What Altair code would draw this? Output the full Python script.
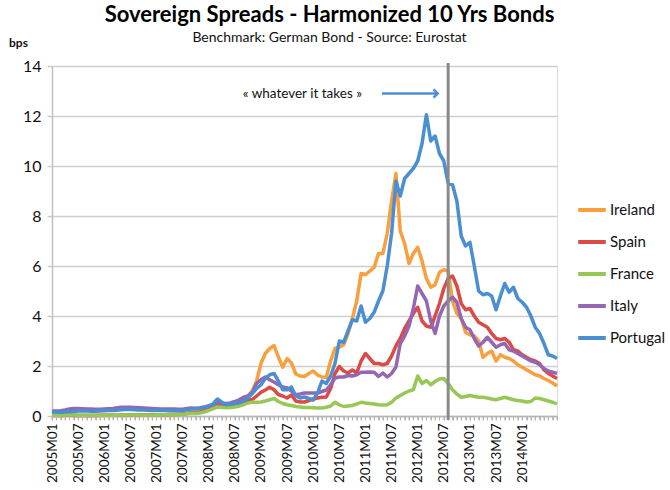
import altair as alt
import pandas as pd

# ---------------- data ----------------
months = [f"{y}M{m:02d}" for y in range(2005, 2015) for m in range(1, 13)][:117]
tick_labels = months[::6][:19]  # 2005M01 ... 2014M01

countries = ["Ireland", "Spain", "France", "Italy", "Portugal"]
colors = ["#F99F3E", "#DC4A45", "#97C855", "#9567B3", "#4B8FD3"]

ireland = [
    0.03, 0.02, 0.02, 0.02, 0.03, 0.03, 0.02, 0.02, 0.02, 0.02, 0.02, 0.02,
    0.02, 0.02, 0.02, 0.02, 0.02, 0.03, 0.03, 0.03, 0.03, 0.03, 0.03, 0.04,
    0.04, 0.04, 0.04, 0.05, 0.05, 0.06, 0.08, 0.12, 0.15, 0.15, 0.18, 0.22,
    0.25, 0.30, 0.40, 0.40, 0.38, 0.42, 0.48, 0.55, 0.62, 0.80, 1.00, 1.40,
    2.10, 2.50, 2.70, 2.82, 2.36, 1.95, 2.30, 2.12, 1.68, 1.60, 1.58, 1.70,
    1.80, 1.64, 1.56, 1.55, 2.20, 2.70, 2.75, 2.85, 3.30, 3.90, 4.60, 5.70,
    5.65, 5.80, 5.95, 6.50, 6.50, 7.30, 8.60, 9.70, 7.40, 6.90, 6.10, 6.50,
    6.75, 6.20, 5.50, 5.15, 5.25, 5.75, 5.85, 5.80, 4.60, 4.10, 3.90, 3.35,
    3.25, 3.20, 3.00, 2.35, 2.50, 2.60, 2.20, 2.45, 2.35, 2.30, 2.20, 2.05,
    1.95, 1.85, 1.75, 1.65, 1.60, 1.50, 1.42, 1.32, 1.20,
]
spain = [
    0.02, 0.02, 0.02, 0.03, 0.03, 0.02, 0.02, 0.02, 0.02, 0.02, 0.02, 0.03,
    0.03, 0.03, 0.03, 0.03, 0.04, 0.04, 0.04, 0.04, 0.04, 0.05, 0.05, 0.05,
    0.05, 0.05, 0.05, 0.06, 0.06, 0.07, 0.08, 0.10, 0.12, 0.12, 0.15, 0.20,
    0.28, 0.36, 0.44, 0.42, 0.42, 0.45, 0.48, 0.52, 0.56, 0.62, 0.66, 0.80,
    0.95, 1.04, 1.15, 1.05, 0.86, 0.80, 0.72, 0.84, 0.60, 0.56, 0.56, 0.62,
    0.68, 0.72, 0.75, 0.76, 1.10, 1.70, 1.98, 1.80, 1.72, 1.84, 1.72, 2.20,
    2.50, 2.30, 2.10, 2.10, 2.05, 2.10, 2.40, 2.80, 3.10, 3.50, 3.80, 4.10,
    4.35, 3.80, 3.60, 3.55, 4.00, 4.50, 5.10, 5.50, 5.60, 5.20, 4.50, 4.25,
    4.30, 4.00, 3.75, 3.65, 3.55, 3.30, 3.10, 3.05, 3.10, 2.95, 2.65, 2.60,
    2.45, 2.35, 2.25, 2.20, 2.10, 1.85, 1.70, 1.60, 1.50,
]
france = [
    0.03, 0.03, 0.03, 0.04, 0.04, 0.04, 0.03, 0.03, 0.03, 0.03, 0.03, 0.03,
    0.03, 0.03, 0.03, 0.03, 0.04, 0.04, 0.04, 0.04, 0.04, 0.04, 0.04, 0.04,
    0.05, 0.05, 0.05, 0.05, 0.05, 0.06, 0.07, 0.09, 0.10, 0.10, 0.12, 0.16,
    0.22, 0.30, 0.36, 0.35, 0.33, 0.34, 0.36, 0.40, 0.45, 0.52, 0.55, 0.55,
    0.56, 0.60, 0.65, 0.70, 0.58, 0.50, 0.45, 0.42, 0.38, 0.36, 0.34, 0.34,
    0.33, 0.32, 0.32, 0.35, 0.40, 0.55, 0.45, 0.38, 0.40, 0.42, 0.48, 0.55,
    0.52, 0.50, 0.48, 0.45, 0.44, 0.45, 0.55, 0.72, 0.82, 0.92, 1.00, 1.05,
    1.60, 1.30, 1.42, 1.25, 1.38, 1.48, 1.50, 1.30, 1.05, 0.88, 0.75, 0.78,
    0.82, 0.78, 0.75, 0.75, 0.72, 0.68, 0.65, 0.70, 0.75, 0.70, 0.65, 0.62,
    0.60, 0.56, 0.58, 0.72, 0.70, 0.65, 0.60, 0.55, 0.48,
]
italy = [
    0.20, 0.20, 0.21, 0.24, 0.28, 0.30, 0.30, 0.29, 0.28, 0.28, 0.27, 0.27,
    0.28, 0.29, 0.30, 0.33, 0.35, 0.35, 0.35, 0.34, 0.33, 0.32, 0.31, 0.30,
    0.29, 0.28, 0.28, 0.28, 0.28, 0.27, 0.27, 0.30, 0.32, 0.31, 0.33, 0.36,
    0.40, 0.45, 0.55, 0.52, 0.50, 0.52, 0.58, 0.65, 0.75, 0.80, 0.95, 1.30,
    1.45, 1.56, 1.45, 1.36, 1.25, 1.16, 1.12, 1.00, 0.85, 0.88, 0.92, 0.92,
    0.92, 0.92, 0.98, 1.04, 1.25, 1.52, 1.56, 1.56, 1.62, 1.60, 1.65, 1.75,
    1.75, 1.76, 1.75, 1.58, 1.72, 1.56, 1.70, 1.96, 2.90, 3.20, 3.60, 4.30,
    5.20, 4.90, 4.60, 3.80, 3.30, 4.00, 4.40, 4.60, 4.75, 4.55, 3.90, 3.55,
    3.45, 3.10, 2.80, 2.95, 3.15, 2.95, 2.75, 2.85, 2.90, 2.65, 2.60, 2.50,
    2.40, 2.30, 2.20, 2.15, 2.05, 1.90, 1.80, 1.75, 1.70,
]
portugal = [
    0.16, 0.15, 0.15, 0.16, 0.17, 0.18, 0.20, 0.20, 0.20, 0.19, 0.19, 0.20,
    0.21, 0.22, 0.22, 0.23, 0.25, 0.26, 0.26, 0.25, 0.24, 0.24, 0.23, 0.22,
    0.22, 0.22, 0.22, 0.21, 0.21, 0.21, 0.22, 0.25, 0.28, 0.28, 0.30, 0.35,
    0.40, 0.48, 0.68, 0.55, 0.45, 0.48, 0.50, 0.52, 0.60, 0.72, 0.90, 1.10,
    1.25, 1.50, 1.65, 1.70, 1.40, 1.05, 1.05, 1.16, 0.80, 0.72, 0.76, 0.70,
    0.64, 0.92, 1.40, 1.30, 1.60, 2.10, 3.00, 2.95, 3.40, 3.85, 3.80, 4.40,
    3.75, 3.90, 4.15, 4.60, 5.00, 6.00, 7.30, 9.40, 8.80, 9.50, 9.70, 9.90,
    10.20, 10.90, 12.05, 11.00, 11.20, 10.50, 10.20, 9.30, 9.25, 8.60, 7.20, 6.80,
    6.95, 6.00, 5.00, 4.85, 4.90, 4.80, 4.25, 4.80, 5.30, 4.95, 5.15, 4.70,
    4.55, 4.35, 4.00, 3.55, 3.30, 2.90, 2.45, 2.40, 2.30,
]

series = {"Ireland": ireland, "Spain": spain, "France": france,
          "Italy": italy, "Portugal": portugal}

# annotation anchors (data units)
event_month = 91          # 2012M08, "whatever it takes"
note_text = "« whatever it takes »"
note_x, note_y = 57.5, 12.9
arrow_x0, arrow_x1 = 75.8, 88.6

rows = []
for c in countries:
    for i, v in enumerate(series[c]):
        rows.append({"idx": i, "month": months[i], "country": c, "value": v})
df = pd.DataFrame(rows)
month_df = pd.DataFrame({"idx": list(range(len(months)))})

# ---------------- chart ----------------
W, H = 505, 350
FONT = "Lato"
label_arr = "[" + ",".join(f"'{t}'" for t in tick_labels) + "]"

xscale = alt.Scale(domain=[0, 116], nice=False, zero=False)
yscale = alt.Scale(domain=[0, 14], nice=False)
cscale = alt.Scale(domain=countries, range=colors)

x_axis = alt.Axis(
    values=list(range(0, 117)),
    labelExpr=f"datum.value % 6 == 0 ? {label_arr}[datum.value / 6] : ''",
    labelAngle=270, labelFontSize=13.5, labelFont=FONT, labelColor="#111",
    labelOverlap=False, labelPadding=3,
    tickSize=4, tickColor="#B5B5B5", tickWidth=1,
    domainColor="#B5B5B5", domainWidth=1.5, grid=False, title=None,
)
y_axis = alt.Axis(
    values=list(range(0, 15, 2)), labelFontSize=16, labelFont=FONT,
    labelColor="#111", labelPadding=6, tickSize=5, tickColor="#C8C8C8",
    tickWidth=1.5, domainColor="#C0C0C0", domainWidth=1.5,
    grid=True, gridColor="#CFCFCF", gridWidth=1.5,
    title="bps", titleAngle=0, titleFont=FONT, titleFontSize=12,
    titleFontWeight="bold", titleX=-34, titleY=-24, titleAlign="center",
    titleBaseline="middle", titleColor="#111",
)


def X(field):
    return alt.X(field, scale=xscale, axis=x_axis)


def Y(field):
    return alt.Y(field, scale=yscale, axis=y_axis)


legend = alt.Legend(
    title=None, orient="none", legendX=524, legendY=128,
    symbolType="stroke", symbolStrokeWidth=4, symbolSize=760,
    labelFont=FONT, labelFontSize=15, labelColor="#111",
    rowPadding=8, labelOffset=2,
)

base = alt.Chart(df)

layers = []
for c in countries:
    layers.append(
        base.transform_filter(alt.datum.country == c)
        .mark_line(strokeWidth=3.5, strokeJoin="round")
        .encode(x=X("idx:Q"), y=Y("value:Q"),
                color=alt.Color("country:N", scale=cscale, legend=legend))
    )

ticks_bottom = alt.Chart(month_df).mark_rule(color="#B5B5B5", strokeWidth=1).encode(
    x=X("idx:Q"), y=alt.value(H), y2=alt.value(H + 4)
)

event_df = pd.DataFrame({"idx": [event_month]})
vline = alt.Chart(event_df).mark_rule(color="#8A8A8A", strokeWidth=3).encode(
    x=X("idx:Q"), y=alt.value(-3), y2=alt.value(H + 4)
)

note_df = pd.DataFrame({"x": [note_x], "y": [note_y], "t": [note_text]})
note = alt.Chart(note_df).mark_text(font=FONT, fontSize=13.5, color="#111").encode(
    x=X("x:Q"), y=Y("y:Q"), text="t:N"
)

arrow_df = pd.DataFrame({"x": [arrow_x0], "x2": [arrow_x1], "y": [note_y]})
arrow_line = alt.Chart(arrow_df).mark_rule(color="#4B8FD3", strokeWidth=2.5).encode(
    x=X("x:Q"), x2="x2:Q", y=Y("y:Q")
)
arrow_head = alt.Chart(arrow_df).mark_point(
    shape="M -1 -1 L 0 0 L -1 1", filled=False, color="#4B8FD3",
    strokeWidth=2.5, size=70, opacity=1,
).encode(x=X("x2:Q"), y=Y("y:Q"))

chart = alt.layer(
    *layers, ticks_bottom, vline, note, arrow_line, arrow_head
).properties(
    width=W, height=H,
    autosize=alt.AutoSizeParams(type="none"),
    padding={"left": 52, "top": 66, "right": 113, "bottom": 74},
    title=alt.TitleParams(
        text="Sovereign Spreads - Harmonized 10 Yrs Bonds",
        subtitle="Benchmark: German Bond - Source: Eurostat",
        anchor="middle", dx=25, font=FONT, fontSize=22, fontWeight="bold",
        color="#000", subtitleFont=FONT, subtitleFontSize=14,
        subtitleColor="#111", subtitlePadding=4, offset=-10,
    ),
).configure_view(stroke=None).configure(background="white")

chart.save("out.html", embed_options={"renderer": "svg", "actions": False})
